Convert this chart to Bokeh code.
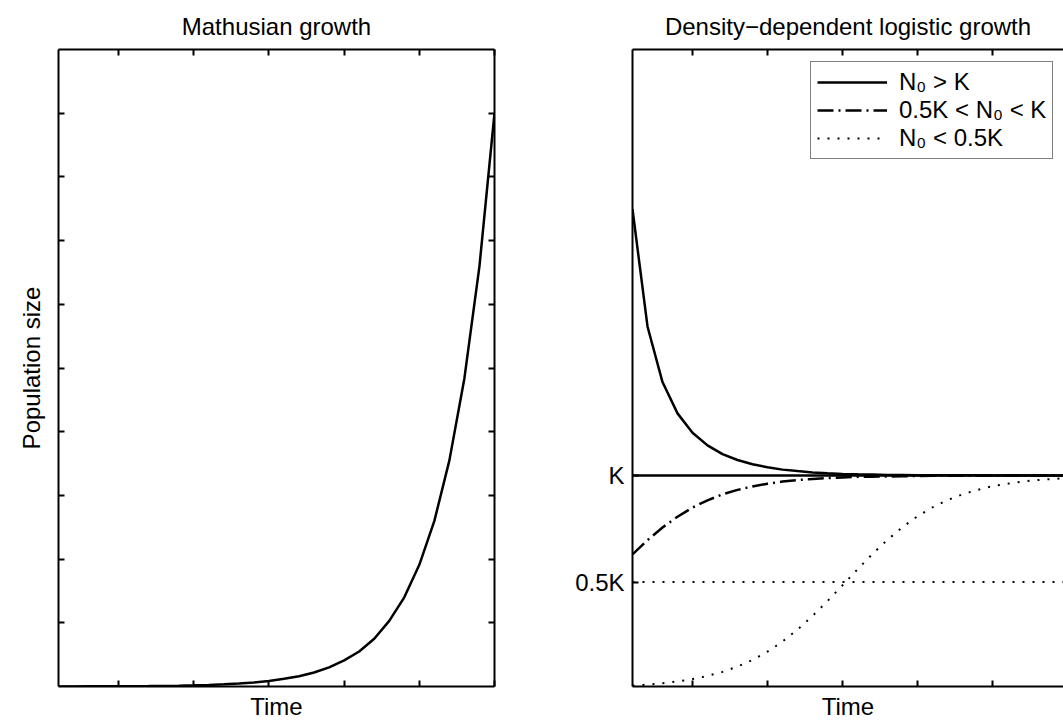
from bokeh.plotting import figure
from bokeh.layouts import row
from bokeh.models import (LinearAxis, FixedTicker, Range1d, Span, Legend, LegendItem,
                          CustomJSTickFormatter)
from bokeh.embed import file_html
from bokeh.resources import INLINE

# ---------------- data ----------------
time = list(range(1, 31))
x_ticks = [5, 10, 15, 20, 25, 30]

# Malthusian (exponential) growth, arbitrary units (axis 0..10)
malthus = [0.0011, 0.0015, 0.002, 0.0028, 0.0038, 0.0052, 0.0071, 0.0097, 0.013, 0.018,
           0.025, 0.034, 0.046, 0.063, 0.086, 0.12, 0.16, 0.22, 0.30, 0.41,
           0.55, 0.75, 1.03, 1.40, 1.91, 2.60, 3.55, 4.84, 6.60, 9.0]
malthus_y_ticks = [1, 2, 3, 4, 5, 6, 7, 8, 9]

# Logistic growth (K = 100)
K = 100
half_K = 50
above_K = [225.0, 170.0, 143.9, 129.2, 120.1, 114.2, 110.1, 107.3, 105.3, 103.9,
           102.8, 102.1, 101.5, 101.1, 100.8, 100.6, 100.5, 100.3, 100.3, 100.2,
           100.1, 100.1, 100.1, 100.1, 100.0, 100.0, 100.0, 100.0, 100.0, 100.0]
mid_K = [63.0, 69.7, 75.6, 80.7, 85.0, 88.4, 91.2, 93.3, 94.9, 96.2,
         97.2, 97.9, 98.4, 98.8, 99.1, 99.4, 99.5, 99.6, 99.7, 99.8,
         99.9, 99.9, 99.9, 99.9, 100.0, 100.0, 100.0, 100.0, 100.0, 100.0]
below_half = [1.39, 1.87, 2.51, 3.36, 4.48, 5.95, 7.87, 10.34, 13.47, 17.36,
              22.1, 27.7, 34.1, 41.1, 48.5, 56.0, 63.2, 69.9, 75.8, 80.9,
              85.1, 88.5, 91.2, 93.3, 95.0, 96.2, 97.2, 97.9, 98.4, 98.8]
logistic_y_ticks = [50, 100]
logistic_y_labels = ["0.5K", "K"]
legend_labels = ["N\u2080 > K", "0.5K < N\u2080 < K", "N\u2080 < 0.5K"]
titles = ["Mathusian growth", "Density\u2212dependent logistic growth"]

FONT = "Liberation Sans"
FS = "24px"


def style_axis(ax, ticks, labels=False):
    ax.ticker = FixedTicker(ticks=ticks)
    ax.axis_line_width = 2
    ax.axis_line_color = "black"
    ax.major_tick_in = 6
    ax.major_tick_out = 0
    ax.major_tick_line_width = 2
    ax.major_tick_line_color = "black"
    ax.minor_tick_line_color = None
    ax.axis_label_text_font = FONT
    ax.axis_label_text_font_size = FS
    ax.axis_label_text_font_style = "normal"
    ax.axis_label_text_color = "black"
    ax.major_label_text_font = FONT
    ax.major_label_text_font_size = FS
    ax.major_label_text_color = "black"
    if not labels:
        ax.formatter = CustomJSTickFormatter(code="return ''")
        ax.major_label_standoff = 0


def base_fig(title, width, x_end, y_range, border_left, border_right):
    p = figure(width=width, height=722, x_range=Range1d(1, x_end), y_range=y_range,
               output_backend="svg", toolbar_location=None,
               min_border_left=border_left, min_border_right=border_right,
               min_border_top=49, min_border_bottom=36)
    p.title.text = title
    p.title.align = "center"
    p.title.text_font = FONT
    p.title.text_font_size = FS
    p.title.text_font_style = "normal"
    p.title.text_color = "black"
    p.title.standoff = 20
    p.outline_line_color = None
    p.xgrid.grid_line_color = None
    p.ygrid.grid_line_color = None
    p.background_fill_color = "white"
    p.border_fill_color = "white"
    return p


# ---------------- left panel ----------------
p1 = base_fig(titles[0], 514, 30, Range1d(0, 10), 58, 20)
style_axis(p1.xaxis[0], x_ticks)
style_axis(p1.yaxis[0], malthus_y_ticks)
p1.xaxis[0].axis_label = "Time"
p1.xaxis[0].axis_label_standoff = 6
p1.yaxis[0].axis_label = "Population size"
p1.yaxis[0].axis_label_standoff = 14
top1 = LinearAxis()
style_axis(top1, x_ticks)
p1.add_layout(top1, "above")
right1 = LinearAxis()
style_axis(right1, malthus_y_ticks)
p1.add_layout(right1, "right")
p1.line(time, malthus, line_color="black", line_width=2.5)

# ---------------- right panel ----------------
p2 = base_fig(titles[1], 549, 1 + 431 / 15, Range1d(1, 300), 118, 0)
style_axis(p2.xaxis[0], x_ticks)
style_axis(p2.yaxis[0], logistic_y_ticks, labels=True)
p2.yaxis[0].major_label_overrides = {t: l for t, l in zip(logistic_y_ticks, logistic_y_labels)}
p2.yaxis[0].major_label_standoff = 8
p2.xaxis[0].axis_label = "Time"
p2.xaxis[0].axis_label_standoff = 6
top2 = LinearAxis()
style_axis(top2, x_ticks)
p2.add_layout(top2, "above")

p2.add_layout(Span(location=K, dimension="width", line_color="black", line_width=2.5))
p2.add_layout(Span(location=half_K, dimension="width", line_color="black",
                   line_width=2, line_dash="2 8"))
r_a = p2.line(time, above_K, line_color="black", line_width=2.5)
r_m = p2.line(time, mid_K, line_color="black", line_width=2.5, line_dash="16 5 2 5")
r_b = p2.line(time, below_half, line_color="black", line_width=2, line_dash="2 8")

legend = Legend(items=[LegendItem(label=legend_labels[0], renderers=[r_a]),
                       LegendItem(label=legend_labels[1], renderers=[r_m]),
                       LegendItem(label=legend_labels[2], renderers=[r_b])],
                location=(178, 527), margin=0, padding=6, spacing=0,
                glyph_width=70, glyph_height=20, label_height=20, label_standoff=12,
                label_text_font=FONT, label_text_font_size=FS, label_text_color="black",
                border_line_color="black", border_line_width=1.5,
                background_fill_color="white", background_fill_alpha=1.0)
p2.add_layout(legend)

layout = row(p1, p2)
open("out.html", "w").write(file_html(layout, INLINE))
